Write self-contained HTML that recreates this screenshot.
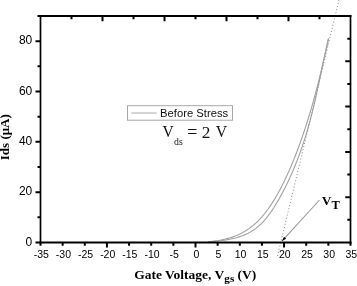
<!DOCTYPE html><html><head><meta charset="utf-8"><style>html,body{margin:0;padding:0;background:#fff;width:357px;height:286px;overflow:hidden}svg{display:block;will-change:transform}</style></head><body><svg width="357" height="286" viewBox="0 0 357 286"><rect width="357" height="286" fill="#fff"/><path d="M207.78,241.80 L211.04,241.49 L214.16,241.11 L217.15,240.69 L220.02,240.20 L222.77,239.65 L225.42,239.05 L227.96,238.39 L230.41,237.67 L232.77,236.89 L235.04,236.06 L237.24,235.17 L239.36,234.22 L241.41,233.21 L243.39,232.14 L245.32,231.02 L247.19,229.84 L249.01,228.60 L250.78,227.30 L252.50,225.94 L254.18,224.53 L255.83,223.06 L257.44,221.53 L259.01,219.94 L260.56,218.30 L262.08,216.60 L263.58,214.84 L265.05,213.02 L266.50,211.14 L267.93,209.21 L269.34,207.21 L270.74,205.16 L272.13,203.06 L273.50,200.89 L274.86,198.67 L276.21,196.39 L277.54,194.05 L278.87,191.65 L280.19,189.19 L281.51,186.68 L282.81,184.11 L284.11,181.48 L285.40,178.79 L286.69,176.05 L287.97,173.25 L289.25,170.39 L290.52,167.47 L291.78,164.49 L293.04,161.46 L294.29,158.37 L295.54,155.22 L296.78,152.01 L298.01,148.75 L299.24,145.42 L300.46,142.04 L301.67,138.60 L302.88,135.10 L304.08,131.55 L305.27,127.94 L306.46,124.27 L307.64,120.54 L308.80,116.75 L309.96,112.91 L311.12,109.01 L312.26,105.05 L313.39,101.03 L314.52,96.95 L315.64,92.82 L316.74,88.63 L317.84,84.38 L318.93,80.07 L320.02,75.70 L321.09,71.28 L322.16,66.80 L323.22,62.26 L324.27,57.67 L325.32,53.01 L326.36,48.30 L327.40,43.53 L328.43,38.70" fill="none" stroke="#a2a2a2" stroke-width="1.1"/><path d="M208.09,241.80 L212.51,241.49 L216.64,241.11 L220.50,240.69 L224.12,240.20 L227.50,239.65 L230.67,239.05 L233.64,238.39 L236.43,237.67 L239.05,236.89 L241.51,236.06 L243.84,235.17 L246.04,234.22 L248.13,233.21 L250.11,232.14 L251.99,231.02 L253.79,229.84 L255.52,228.60 L257.18,227.30 L258.78,225.94 L260.32,224.53 L261.82,223.06 L263.28,221.53 L264.71,219.94 L266.10,218.30 L267.47,216.60 L268.82,214.84 L270.16,213.02 L271.48,211.14 L272.78,209.21 L274.08,207.21 L275.37,205.16 L276.66,203.06 L277.94,200.89 L279.22,198.67 L280.49,196.39 L281.76,194.05 L283.03,191.65 L284.30,189.19 L285.57,186.68 L286.83,184.11 L288.09,181.48 L289.35,178.79 L290.60,176.05 L291.84,173.25 L293.08,170.39 L294.31,167.47 L295.53,164.49 L296.74,161.46 L297.94,158.37 L299.13,155.22 L300.30,152.01 L301.46,148.75 L302.60,145.42 L303.72,142.04 L304.83,138.60 L305.92,135.10 L306.99,131.55 L308.05,127.94 L309.08,124.27 L310.10,120.54 L311.09,116.75 L312.07,112.91 L313.04,109.01 L313.99,105.05 L314.92,101.03 L315.85,96.95 L316.76,92.82 L317.67,88.63 L318.58,84.38 L319.49,80.07 L320.40,75.70 L321.32,71.28 L322.26,66.80 L323.21,62.26 L324.19,57.67 L325.20,53.01 L326.26,48.30 L327.36,43.53 L328.51,38.70" fill="none" stroke="#a2a2a2" stroke-width="1.1"/><line x1="277.5" y1="256" x2="339" y2="0" stroke="#909090" stroke-width="1" stroke-dasharray="1.1 2.1"/><line x1="319.5" y1="200" x2="284.70" y2="238.03" stroke="#9a9a9a" stroke-width="1.1"/><polygon points="281.80,241.20 283.97,236.68 286.11,238.64" fill="#000"/><path d="M39.6,16H351.4 M39.6,242.6H351.4" stroke="#000" stroke-width="2" fill="none"/><path d="M40.5,15V243.6 M350.5,15V243.6" stroke="#000" stroke-width="1.7" fill="none"/><path d="M40.50,242.5V245.8 M62.64,242.5V245.8 M84.79,242.5V245.8 M106.93,242.5V247.6 M129.07,242.5V245.8 M151.21,242.5V245.8 M173.36,242.5V245.8 M195.50,242.5V247.6 M217.64,242.5V245.8 M239.79,242.5V245.8 M261.93,242.5V245.8 M284.07,242.5V247.6 M306.21,242.5V245.8 M328.36,242.5V245.8 M350.50,242.5V245.8 M40.5,242.50H35.50 M40.5,217.33H37.50 M40.5,192.17H35.50 M40.5,167.00H37.50 M40.5,141.83H35.50 M40.5,116.67H37.50 M40.5,91.50H35.50 M40.5,66.33H37.50 M40.5,41.17H35.50 M40.5,16.00H37.50 M71.50,16V19.2 M102.50,16V21.2 M133.50,16V19.2 M164.50,16V21.2 M195.50,16V19.2 M226.50,16V21.2 M257.50,16V19.2 M288.50,16V21.2 M319.50,16V19.2 M350.5,38.65H347.3 M350.5,61.30H345.3 M350.5,83.95H347.3 M350.5,106.60H345.3 M350.5,129.25H347.3 M350.5,151.90H345.3 M350.5,174.55H347.3 M350.5,197.20H345.3 M350.5,219.85H347.3" stroke="#000" stroke-width="2" fill="none"/><g font-family="Liberation Sans" font-size="10.5" fill="#000" text-anchor="middle"><text x="41.30" y="258.1">-35</text><text x="63.44" y="258.1">-30</text><text x="85.59" y="258.1">-25</text><text x="107.73" y="258.1">-20</text><text x="129.87" y="258.1">-15</text><text x="152.01" y="258.1">-10</text><text x="174.16" y="258.1">-5</text><text x="196.30" y="258.1">0</text><text x="218.44" y="258.1">5</text><text x="240.59" y="258.1">10</text><text x="262.73" y="258.1">15</text><text x="284.87" y="258.1">20</text><text x="307.01" y="258.1">25</text><text x="329.16" y="258.1">30</text><text x="351.30" y="258.1">35</text></g><g font-family="Liberation Sans" font-size="12" fill="#000" text-anchor="end"><text x="32.3" y="245.50">0</text><text x="32.3" y="195.17">20</text><text x="32.3" y="144.83">40</text><text x="32.3" y="94.50">60</text><text x="32.3" y="44.17">80</text></g><text transform="translate(9.3,160.2) rotate(-90)" font-family="Liberation Serif" font-weight="bold" font-size="13">Ids (μA)</text><text transform="translate(134.2,279.3) scale(1.016,1)" font-family="Liberation Serif" font-weight="bold" font-size="13.3">Gate Voltage, V<tspan font-size="11" dy="3.1">gs</tspan><tspan dy="-3.1"> (V)</tspan></text><rect x="127.5" y="105.7" width="105" height="14.5" fill="none" stroke="#a8a8a8" stroke-width="1"/><line x1="131.4" y1="113" x2="156.6" y2="113" stroke="#aaa" stroke-width="1"/><text x="160" y="116.8" font-family="Liberation Sans" font-size="11.25" fill="#111">Before Stress</text><g font-family="Liberation Serif" fill="#111"><text transform="translate(162.43,136.9) scale(0.97,1)" font-size="16">V</text><text x="174" y="144.6" font-size="9.8">ds</text><text x="187.2" y="138.0" font-size="18">=</text><text x="201.64" y="137.9" font-size="17.3">2</text><text transform="translate(215.63,137.2) scale(0.97,1)" font-size="16.2">V</text></g><text x="321.8" y="205.2" font-family="Liberation Serif" font-weight="bold" font-size="13.4">V</text><text x="331.4" y="209.1" font-family="Liberation Serif" font-weight="bold" font-size="12.5">T</text></svg></body></html>
